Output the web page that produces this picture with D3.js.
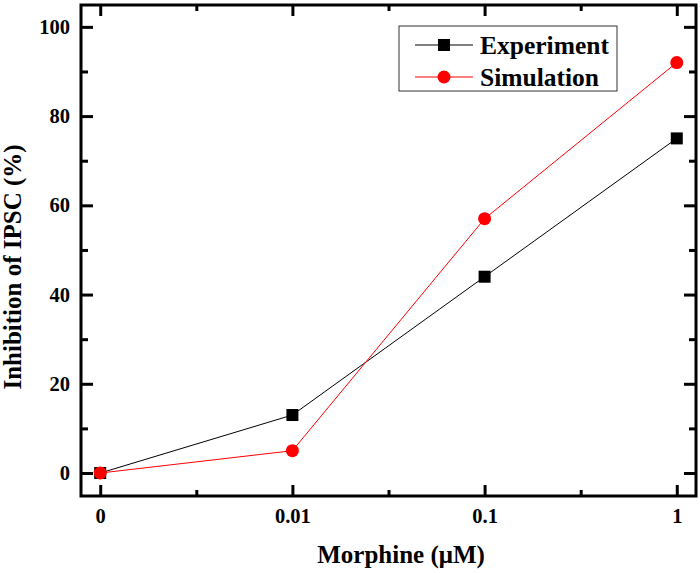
<!DOCTYPE html>
<html><head><meta charset="utf-8">
<script src="https://cdn.jsdelivr.net/npm/d3@7"></script>
<style>body{margin:0;background:#fff}svg{display:block}text{font-family:"Liberation Serif","Times New Roman",serif;font-weight:bold}</style>
</head><body><svg id="c" width="700" height="573"></svg>
<script>
const categories = ["0", "0.01", "0.1", "1"];
const experiment = [0, 13, 44, 75];
const simulation = [0, 5, 57, 92];
const yTicks = [0, 20, 40, 60, 80, 100];
const yMinor = [10, 30, 50, 70, 90];
const seriesNames = ["Experiment", "Simulation"];

const svg = d3.select("#c");
const L = 81, R = 696, T = 5, B = 496;
const x = d3.scaleLinear().domain([-0.1, 3.1]).range([L, R]);
const y = d3.scaleLinear().domain([-5.15, 104.9]).range([B, T]);
const idx = categories.map((d, i) => i);
const xMinor = [0.5, 1.5, 2.5];

const g = svg.append("g");
const thick = a => { a.select(".domain").remove(); a.selectAll("line").attr("stroke-width", 3); };
// left axis (ticks inward)
g.append("g").attr("transform", `translate(${L},0)`)
  .call(d3.axisLeft(y).tickValues(yTicks).tickSize(-12).tickPadding(11).tickFormat(d3.format("d")))
  .call(thick).call(a => a.selectAll("text").attr("font-size", 20.5).attr("fill", "#000"));
g.append("g").attr("transform", `translate(${L},0)`).call(d3.axisLeft(y).tickValues(yMinor).tickSize(-7).tickFormat("")).call(thick);
// right axis
g.append("g").attr("transform", `translate(${R},0)`).call(d3.axisRight(y).tickValues(yTicks).tickSize(-12).tickFormat("")).call(thick);
g.append("g").attr("transform", `translate(${R},0)`).call(d3.axisRight(y).tickValues(yMinor).tickSize(-7).tickFormat("")).call(thick);
// bottom axis
g.append("g").attr("transform", `translate(0,${B})`)
  .call(d3.axisBottom(x).tickValues(idx).tickSize(-11).tickPadding(12).tickFormat(i => categories[i]))
  .call(thick).call(a => a.selectAll("text").attr("font-size", 20.5).attr("fill", "#000"));
g.append("g").attr("transform", `translate(0,${B})`).call(d3.axisBottom(x).tickValues(xMinor).tickSize(-6).tickFormat("")).call(thick);
// top axis
g.append("g").attr("transform", `translate(0,${T})`).call(d3.axisTop(x).tickValues(idx).tickSize(-11).tickFormat("")).call(thick);
g.append("g").attr("transform", `translate(0,${T})`).call(d3.axisTop(x).tickValues(xMinor).tickSize(-6).tickFormat("")).call(thick);

svg.append("rect").attr("x", L).attr("y", T).attr("width", R - L).attr("height", B - T)
  .attr("fill", "none").attr("stroke", "#000").attr("stroke-width", 3);

const line = d3.line().x((d, i) => x(i)).y(d => y(d));
svg.append("path").datum(experiment).attr("d", line).attr("fill", "none").attr("stroke", "#000").attr("stroke-width", 1);
svg.append("path").datum(simulation).attr("d", line).attr("fill", "none").attr("stroke", "#f00").attr("stroke-width", 1);
svg.selectAll(".sq").data(experiment).enter().append("rect")
  .attr("x", (d, i) => x(i) - 6).attr("y", d => y(d) - 6).attr("width", 12).attr("height", 12).attr("fill", "#000");
svg.selectAll(".ci").data(simulation).enter().append("circle")
  .attr("cx", (d, i) => x(i)).attr("cy", d => y(d)).attr("r", 6.5).attr("fill", "#f00");

// legend
const lg = svg.append("g");
lg.append("rect").attr("x", 399).attr("y", 26).attr("width", 218).attr("height", 65).attr("fill", "#fff").attr("stroke", "#333").attr("stroke-width", 1);
const rows = [45, 77];
lg.append("line").attr("x1", 415).attr("x2", 473).attr("y1", rows[0]).attr("y2", rows[0]).attr("stroke", "#000");
lg.append("rect").attr("x", 438).attr("y", rows[0] - 6).attr("width", 12).attr("height", 12).attr("fill", "#000");
lg.append("line").attr("x1", 415).attr("x2", 473).attr("y1", rows[1]).attr("y2", rows[1]).attr("stroke", "#f00");
lg.append("circle").attr("cx", 444).attr("cy", rows[1]).attr("r", 6.5).attr("fill", "#f00");
seriesNames.forEach((n, i) => lg.append("text").attr("x", 480).attr("y", rows[i]).attr("dy", "0.35em").attr("font-size", 25.5).text(n));

svg.append("text").attr("x", 401).attr("y", 563).attr("text-anchor", "middle").attr("font-size", 25).text("Morphine (μM)");
svg.append("text").attr("transform", `translate(21,267) rotate(-90)`).attr("text-anchor", "middle").attr("font-size", 25).text("Inhibition of IPSC (%)");
</script></body></html>
